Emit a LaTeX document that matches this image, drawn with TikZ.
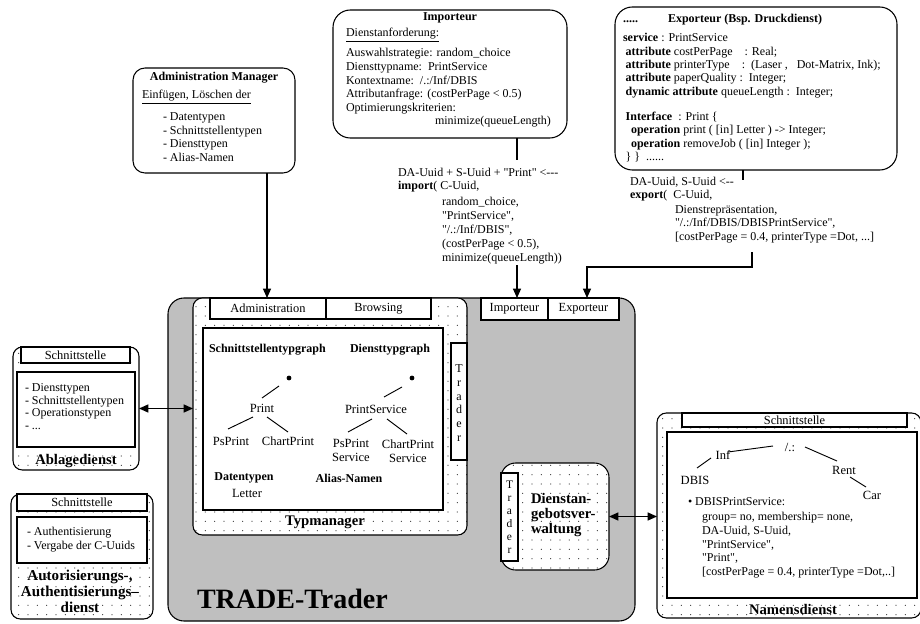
\documentclass[tikz,border=0pt]{standalone}
\usepackage{fontspec}
\setmainfont{Liberation Serif}[Ligatures=TeXOff]
\usetikzlibrary{arrows.meta,patterns,fit}
\pgfdeclarepatternformonly{sparsedots}{\pgfqpoint{-1pt}{-1pt}}{\pgfqpoint{1pt}{1pt}}{\pgfqpoint{7pt}{7pt}}{%
  \pgfpathcircle{\pgfqpoint{0pt}{0pt}}{0.45pt}\pgfusepath{fill}}
\newcommand\fbody{\fontsize{9}{10.2}\selectfont}
\newcommand\ftree{\fontsize{9.4}{10.4}\selectfont}
\newcommand\flabel{\fontsize{11}{12.5}\selectfont\bfseries}
\begin{document}
\begin{tikzpicture}[x=0.75pt,y=-0.75pt,
  every node/.style={inner sep=0pt, outer sep=0pt},
  box/.style={draw, line width=0.8pt},
  wbox/.style={box, fill=white},
  rbox/.style={box, fill=white, rounded corners=#1},
  rbox/.default=9pt,
  dotbox/.style={draw, line width=0.8pt, rounded corners=#1, preaction={fill=white}, pattern=sparsedots, pattern color=black!75},
  dotbox/.default=7pt,
  txt/.style={font=\fbody, align=left, anchor=north west},
  lt/.style={font=\fbody, anchor=west},
  ttl/.style={font=\fbody\bfseries},
  tabtxt/.style={font=\fontsize{9.3}{10}\selectfont},
  arr/.style={line width=0.9pt, -{Triangle[length=7pt,width=6pt]}},
  darr/.style={line width=0.9pt, {Triangle[length=7pt,width=6pt]}-{Triangle[length=7pt,width=6pt]}},
  con/.style={line width=0.9pt},
  ln/.style={line width=0.7pt},
]
\useasboundingbox (0,0) rectangle (920,624);

% ---------- Importeur box ----------
\node[rbox=13pt, fit={(333,10)(567,138)}] (imp) {};
\node[ttl] (impttl) at (450,18) {Importeur};
\node[lt] (impsub) at (346,35) {\underline{Dienstanforderung:}};
\node[txt, font=\fontsize{9}{10.2}\selectfont] (implist) at (346,48.5) {Auswahlstrategie: random\_choice\\
Diensttypname:~~PrintService\\
Kontextname:~~/.:/Inf/DBIS\\
Attributanfrage: (costPerPage < 0.5)\\
Optimierungskriterien:};
\node[lt] (impmin) at (435,122) {minimize(queueLength)};

% ---------- Exporteur box ----------
\node[rbox=13pt, fit={(615,7)(897,170)}] (exp) {};
\node[ttl, anchor=base] (expttl) at (745,23) {Exporteur (Bsp. Druckdienst)};
\node[font=\fbody\bfseries, anchor=base west] (expdots) at (623,23) {.....};
\node[txt, font=\fontsize{9}{10}\selectfont] (explist) at (623,33.5) {\textbf{service}~: PrintService\\
\hspace*{2pt}\textbf{attribute} costPerPage~~~~: Real;\\
\hspace*{2pt}\textbf{attribute} printerType~~~~:~~(Laser~,~~~Dot-Matrix, Ink);\\
\hspace*{2pt}\textbf{attribute} paperQuality~:~~Integer;\\
\hspace*{2pt}\textbf{dynamic attribute} queueLength~:~~Integer;\\[9pt]
\hspace*{2pt}\textbf{Interface}~~: Print \{\\
\hspace*{6pt}\textbf{operation} print ( [in] Letter ) -> Integer;\\
\hspace*{6pt}\textbf{operation} removeJob ( [in] Integer );\\
\hspace*{2pt}\} \}~~......};

% ---------- Administration Manager ----------
\node[rbox=9pt, fit={(133,68)(295,173)}] (adm) {};
\node[ttl] (admttl) at (214,78) {Administration Manager};
\node[lt] (admsub) at (142,97) {\underline{Einfügen, Löschen der}};
\node[txt, font=\fontsize{9}{10.3}\selectfont] (admlist) at (163,112.5) {- Datentypen\\
- Schnittstellentypen\\
- Diensttypen\\
- Alias-Namen};

% ---------- import call text ----------
\node[lt] (impc1) at (398,172) {DA-Uuid + S-Uuid + "Print" <---};
\node[lt] (impc2) at (398,187) {\textbf{import}( C-Uuid,};
\node[txt, font=\fontsize{9}{10.35}\selectfont] (impc3) at (442,197.5) {random\_choice,\\
"PrintService",\\
"/.:/Inf/DBIS",\\
(costPerPage < 0.5),\\
minimize(queueLength))};

% ---------- export call text ----------
\node[lt] (expc1) at (630,182) {DA-Uuid, S-Uuid <--};
\node[lt] (expc2) at (630,196) {\textbf{export}(~~C-Uuid,};
\node[txt, font=\fontsize{9}{10.1}\selectfont] (expc3) at (675,205.5) {Dienstrepräsentation,\\
"/.:/Inf/DBIS/DBISPrintService",\\
{[}costPerPage = 0.4, printerType =Dot, ...{]}};

% ---------- TRADE-Trader ----------
\node[box, fill=black!25, rounded corners=12pt, fit={(168,298)(635,621)}] (trade) {};
\node[font=\fontsize{21}{24}\selectfont\bfseries, anchor=base west] (tradelbl) at (197,608) {TRADE-Trader};

% Typmanager
\node[dotbox=7pt, fit={(193,298)(467,535)}] (typm) {};
\node[wbox, fit={(210,298)(326,319)}] (tadm) {};
\node[tabtxt] (tadmtxt) at (tadm.center) {Administration};
\node[wbox, fit={(326,298)(431,319)}] (tbrw) {};
\node[tabtxt] (tbrwtxt) at (tbrw.center) {Browsing};
\node[wbox, fit={(203,328)(443,510)}] (typin) {};
\node[wbox, fit={(451,343)(467,460)}] (trtab1) {};
\node[font=\fontsize{9}{10.3}\selectfont, align=center] (trtxt1) at (459,403) {T\\r\\a\\d\\e\\r};
\node[font=\flabel] (typmlbl) at (325,522) {Typmanager};

\node[ttl, anchor=west] (sgraph) at (209,350) {Schnittstellentypgraph};
\node[ttl, anchor=west] (dgraph) at (350,350) {Diensttypgraph};
\node[circle, fill, minimum size=3.6pt] (root1) at (289,378) {};
\node[circle, fill, minimum size=3.6pt] (root2) at (412,378) {};
\node[font=\ftree] (print) at (262,408) {Print};
\node[font=\ftree] (psprint) at (231,441) {PsPrint};
\node[font=\ftree] (chartprint) at (288,441) {ChartPrint};
\node[font=\ftree] (printsvc) at (376,409) {PrintService};
\node[font=\ftree, align=center] (pssvc) at (351,450) {PsPrint\\Service};
\node[font=\ftree, align=center] (chsvc) at (408,451) {ChartPrint\\Service};
\draw[ln] (262,398) -- (279,386);
\draw[ln] (228,429) -- (253,417);
\draw[ln] (267,417) -- (288,432);
\draw[ln] (384,397) -- (402,387);
\draw[ln] (348,432) -- (372,419);
\draw[ln] (387,419) -- (407,434);
\node[ttl] (datent) at (244,478) {Datentypen};
\node[font=\ftree] (letter) at (247,493) {Letter};
\node[ttl] (alias) at (349,478) {Alias-Namen};

% Importeur / Exporteur tabs
\node[wbox, fit={(481,298)(548,320)}] (imptab) {};
\node[tabtxt] (imptabtxt) at (imptab.center) {Importeur};
\node[wbox, fit={(548,298)(619,320)}] (exptab) {};
\node[tabtxt] (exptabtxt) at (exptab.center) {Exporteur};

% Dienstangebotsverwaltung
\node[dotbox=11pt, fit={(501,463)(609,570)}] (dienst) {};
\node[wbox, fit={(501,473)(518,561)}] (trtab2) {};
\node[font=\fontsize{8.6}{9.8}\selectfont, align=center] (trtxt2) at (509.5,517) {T\\r\\a\\d\\e\\r};
\node[font=\fontsize{11}{11.2}\selectfont\bfseries, align=left, anchor=west] (dienstlbl) at (531,515) {Dienstan-\\gebotsver-\\waltung};

% ---------- Ablagedienst ----------
\node[dotbox=7pt, fit={(13,347)(139,470)}] (abl) {};
\node[wbox, fit={(21,347)(130,363)}] (abltab) {};
\node[tabtxt] (abltabtxt) at (abltab.center) {Schnittstelle};
\node[wbox, fit={(17,372)(135,447)}] (ablin) {};
\node[txt, font=\fontsize{9}{9.5}\selectfont] (abllist) at (25,383.5) {- Diensttypen\\
- Schnittstellentypen\\
- Operationstypen\\
- ...};
\node[font=\flabel] (abllbl) at (76,461) {Ablagedienst};

% ---------- Autorisierungsdienst ----------
\node[dotbox=7pt, fit={(11,494)(153,619)}] (auth) {};
\node[wbox, fit={(17,494)(147,511)}] (authtab) {};
\node[tabtxt] (authtabtxt) at (authtab.center) {Schnittstelle};
\node[wbox, fit={(17,517)(147,563)}] (authin) {};
\node[txt, font=\fontsize{9}{10.5}\selectfont] (authlist) at (27,527.5) {- Authentisierung\\
- Vergabe der C-Uuids};
\node[font=\fontsize{11.3}{12}\selectfont\bfseries, align=center] (authlbl) at (80,591) {Autorisierungs-,\\Authentisierungs–\\dienst};

% ---------- Namensdienst ----------
\node[dotbox=7pt, fit={(657,413)(921,618)}] (nam) {};
\node[wbox, fit={(682,413)(907,427)}] (namtab) {};
\node[tabtxt] (namtabtxt) at (namtab.center) {Schnittstelle};
\node[wbox, fit={(667,432)(917,598)}] (namin) {};
\node[font=\ftree] (nroot) at (790,447) {/.:};
\node[font=\ftree] (ninf) at (723,455) {Inf};
\node[font=\ftree] (ndbis) at (695,480) {DBIS};
\node[font=\ftree] (nrent) at (844,470) {Rent};
\node[font=\ftree] (ncar) at (872,495) {Car};
\draw[ln] (728,452) -- (773,446);
\draw[ln] (805,447) -- (837,461);
\draw[ln] (711,458) -- (697,468);
\draw[ln] (850,477) -- (866,487);
\node[lt] (nbul) at (688,502) {• DBISPrintService:};
\node[txt, font=\fontsize{9}{10.2}\selectfont] (nlist) at (702,512.5) {group= no, membership= none,\\
DA-Uuid, S-Uuid,\\
"PrintService",\\
"Print",\\
{[}costPerPage = 0.4, printerType =Dot,..{]}};
\node[font=\flabel] (namlbl) at (793,609) {Namensdienst};

% ---------- connectors ----------
\coordinate (admx) at (267,0);
\draw[arr] (adm.south -| admx) -- (typm.north -| admx);

\coordinate (impA) at (517,160);
\coordinate (impB) at (517,265);
\draw[con] (imp.south -| impA) -- (impA);
\draw[arr] (impB) -- (imptab.north -| impB);

\coordinate (expA) at (743,180);
\coordinate (expB) at (752,252);
\coordinate (expC) at (587,267);
\draw[con] (exp.south -| expA) -- (expA);
\draw[arr] (expB) |- (expC) -- (exptab.north -| expC);

\draw[darr] (abl.east) -- (abl.east -| typm.west);
\draw[darr] (dienst.east) -- (dienst.east -| nam.west);
\end{tikzpicture}
\end{document}
